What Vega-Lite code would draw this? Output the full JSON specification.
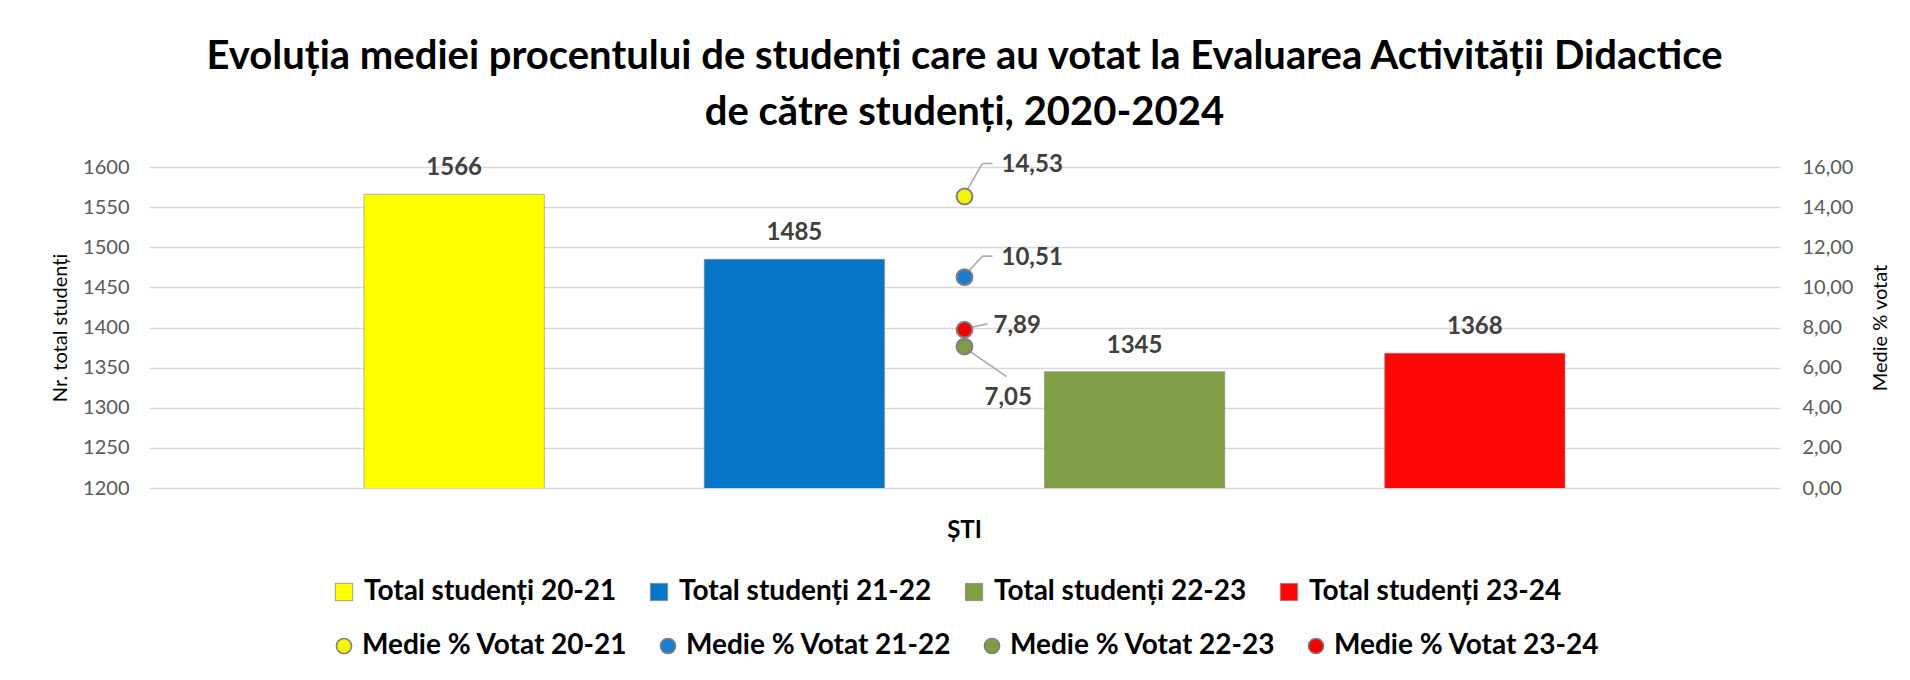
{
  "$schema": "https://vega.github.io/schema/vega-lite/v6.json",
  "autosize": {"type": "none"},
  "width": 1631,
  "height": 321,
  "padding": {"left": 149, "top": 167, "right": 130, "bottom": 192},
  "background": "white",
  "config": {
    "font": "Lato",
    "view": {"stroke": null},
    "locale": {"number": {"decimal": ",", "thousands": ".", "grouping": [3], "currency": ["", ""]}},
    "axis": {
      "labelFont": "Lato", "labelColor": "#595959", "labelFontSize": 20,
      "domain": false, "ticks": false, "gridColor": "#d9d9d9", "gridWidth": 1.5,
      "titleFont": "Lato", "titleFontWeight": "normal", "titleColor": "#000000", "titleFontSize": 20
    },
    "legend": {
      "orient": "bottom", "direction": "horizontal", "labelFont": "Lato", "labelFontSize": 28,
      "labelFontWeight": "bold", "labelColor": "#000000", "labelLimit": 600, "offset": 36,
      "layout": {"bottom": {"anchor": "middle", "direction": "vertical", "margin": 26, "center": false}}
    }
  },
  "title": {
    "text": ["Evoluția mediei procentului de studenți care au votat la Evaluarea Activității Didactice", "de către studenți, 2020-2024"],
    "fontSize": 40, "fontWeight": "bold", "font": "Lato", "color": "#000000",
    "lineHeight": 56, "anchor": "middle", "frame": "group", "offset": 20
  },
  "datasets": {
    "bars": [
      {"cat": "ȘTI", "serie": "Total studenți 20-21", "total": 1566},
      {"cat": "ȘTI", "serie": "Total studenți 21-22", "total": 1485},
      {"cat": "ȘTI", "serie": "Total studenți 22-23", "total": 1345},
      {"cat": "ȘTI", "serie": "Total studenți 23-24", "total": 1368}
    ],
    "puncte": [
      {"cat": "ȘTI", "an": "20-21", "serie": "Medie % Votat 20-21", "medie": 14.53},
      {"cat": "ȘTI", "an": "21-22", "serie": "Medie % Votat 21-22", "medie": 10.51},
      {"cat": "ȘTI", "an": "22-23", "serie": "Medie % Votat 22-23", "medie": 7.05},
      {"cat": "ȘTI", "an": "23-24", "serie": "Medie % Votat 23-24", "medie": 7.89}
    ]
  },
  "encoding": {
    "x": {
      "field": "cat", "type": "nominal",
      "scale": {"paddingInner": 0, "paddingOuter": 0},
      "axis": {"title": null, "labelFontSize": 24, "labelFontWeight": "bold", "labelColor": "#000000", "labelPadding": 30, "labelAngle": 0, "grid": false}
    }
  },
  "layer": [
    {
      "data": {"name": "bars"},
      "encoding": {
        "xOffset": {"field": "serie", "type": "nominal", "scale": {"paddingInner": 0.47, "paddingOuter": 0.632}},
        "y": {
          "field": "total", "type": "quantitative",
          "scale": {"domain": [1200, 1600], "zero": false, "nice": false},
          "axis": {"title": "Nr. total studenți", "values": [1200, 1250, 1300, 1350, 1400, 1450, 1500, 1550, 1600], "format": "d", "labelPadding": 20, "titlePadding": 12, "grid": true}
        }
      },
      "layer": [
        {
          "mark": {"type": "bar", "clip": true, "stroke": "#8a8a8a", "strokeWidth": 1, "strokeOpacity": 0.6},
          "encoding": {
            "color": {
              "field": "serie", "type": "nominal",
              "scale": {"domain": ["Total studenți 20-21", "Total studenți 21-22", "Total studenți 22-23", "Total studenți 23-24"], "range": ["#FFFF00", "#0776C8", "#7F9E45", "#FF0606"]},
              "legend": {"title": null, "symbolType": "square", "symbolSize": 300, "labelOffset": 6, "columnPadding": 28, "symbolStrokeColor": "#8a8a8a", "symbolStrokeWidth": 0.8}
            }
          }
        },
        {
          "mark": {"type": "text", "fontSize": 24, "fontWeight": "bold", "color": "#404040", "dy": -19, "baseline": "alphabetic"},
          "encoding": {"text": {"field": "total", "type": "quantitative", "format": "d"}}
        }
      ]
    },
    {
      "data": {"name": "puncte"},
      "encoding": {
        "y": {
          "field": "medie", "type": "quantitative",
          "scale": {"domain": [0, 16], "nice": false},
          "axis": {"orient": "right", "title": "Medie % votat", "titleAngle": 270, "values": [0, 2, 4, 6, 8, 10, 12, 14, 16], "format": ".2f", "grid": false, "labelPadding": 22, "titlePadding": 38}
        }
      },
      "layer": [
        {
          "transform": [{"filter": "datum.an == '20-21'"}],
          "mark": {"type": "rule", "color": "#a6a6a6", "strokeWidth": 1.5, "xOffset": 3, "yOffset": -7, "x2Offset": 18, "y2Offset": -33},
          "encoding": {"x2": {"field": "cat"}, "y2": {"field": "medie"}}
        },
        {
          "transform": [{"filter": "datum.an == '20-21'"}],
          "mark": {"type": "rule", "color": "#a6a6a6", "strokeWidth": 1.5, "xOffset": 18, "yOffset": -33, "x2Offset": 28, "y2Offset": -33},
          "encoding": {"x2": {"field": "cat"}, "y2": {"field": "medie"}}
        },
        {
          "transform": [{"filter": "datum.an == '21-22'"}],
          "mark": {"type": "rule", "color": "#a6a6a6", "strokeWidth": 1.5, "xOffset": 3, "yOffset": -5, "x2Offset": 18, "y2Offset": -21},
          "encoding": {"x2": {"field": "cat"}, "y2": {"field": "medie"}}
        },
        {
          "transform": [{"filter": "datum.an == '21-22'"}],
          "mark": {"type": "rule", "color": "#a6a6a6", "strokeWidth": 1.5, "xOffset": 18, "yOffset": -21, "x2Offset": 28, "y2Offset": -21},
          "encoding": {"x2": {"field": "cat"}, "y2": {"field": "medie"}}
        },
        {
          "transform": [{"filter": "datum.an == '23-24'"}],
          "mark": {"type": "rule", "color": "#a6a6a6", "strokeWidth": 1.5, "xOffset": 5, "yOffset": -2, "x2Offset": 23, "y2Offset": -6},
          "encoding": {"x2": {"field": "cat"}, "y2": {"field": "medie"}}
        },
        {
          "transform": [{"filter": "datum.an == '22-23'"}],
          "mark": {"type": "rule", "color": "#a6a6a6", "strokeWidth": 1.5, "xOffset": 3, "yOffset": 3, "x2Offset": 42, "y2Offset": 30},
          "encoding": {"x2": {"field": "cat"}, "y2": {"field": "medie"}}
        },
        {
          "mark": {"type": "point", "filled": true, "opacity": 1, "size": 250, "stroke": "#7f7f7f", "strokeWidth": 2},
          "encoding": {
            "color": {
              "field": "serie", "type": "nominal",
              "scale": {"domain": ["Medie % Votat 20-21", "Medie % Votat 21-22", "Medie % Votat 22-23", "Medie % Votat 23-24"], "range": ["#F5F500", "#1B7DD0", "#7F9A48", "#F20000"]},
              "legend": {"title": null, "symbolType": "circle", "symbolSize": 230, "symbolStrokeColor": "#7f7f7f", "symbolStrokeWidth": 1.5, "labelOffset": 4, "columnPadding": 26}
            }
          }
        },
        {
          "transform": [{"filter": "datum.an == '20-21'"}],
          "mark": {"type": "text", "fontSize": 24, "fontWeight": "bold", "color": "#404040", "align": "left", "baseline": "middle", "dx": 37, "dy": -31},
          "encoding": {"text": {"field": "medie", "type": "quantitative", "format": ".2f"}}
        },
        {
          "transform": [{"filter": "datum.an == '21-22'"}],
          "mark": {"type": "text", "fontSize": 24, "fontWeight": "bold", "color": "#404040", "align": "left", "baseline": "middle", "dx": 37, "dy": -19},
          "encoding": {"text": {"field": "medie", "type": "quantitative", "format": ".2f"}}
        },
        {
          "transform": [{"filter": "datum.an == '23-24'"}],
          "mark": {"type": "text", "fontSize": 24, "fontWeight": "bold", "color": "#404040", "align": "left", "baseline": "middle", "dx": 29, "dy": -4},
          "encoding": {"text": {"field": "medie", "type": "quantitative", "format": ".2f"}}
        },
        {
          "transform": [{"filter": "datum.an == '22-23'"}],
          "mark": {"type": "text", "fontSize": 24, "fontWeight": "bold", "color": "#404040", "align": "left", "baseline": "middle", "dx": 20, "dy": 51},
          "encoding": {"text": {"field": "medie", "type": "quantitative", "format": ".2f"}}
        }
      ]
    }
  ],
  "resolve": {"scale": {"y": "independent", "color": "independent"}}
}
